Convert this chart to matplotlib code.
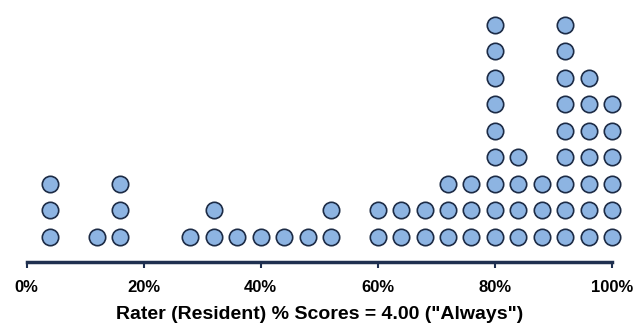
import matplotlib
matplotlib.use("Agg")
import matplotlib.pyplot as plt
from matplotlib.ticker import PercentFormatter

plt.rcParams['font.family'] = ['Liberation Sans', 'DejaVu Sans']

# score (%) and number of residents stacked at that score
scores = [4, 12, 16, 28, 32, 36, 40, 44, 48, 52, 60, 64, 68, 72, 76, 80, 84, 88, 92, 96, 100]
counts = [3, 1, 3, 1, 2, 1, 1, 1, 1, 2, 2, 2, 2, 3, 3, 9, 4, 3, 9, 7, 6]
xticks = [0, 20, 40, 60, 80, 100]

dot_fill = '#8DB4E2'
dot_edge = '#1C2B45'
axis_col = '#1F3050'

fig = plt.figure(figsize=(6.44, 3.26), dpi=100)
ax = fig.add_axes([26.5 / 644, 64 / 326, 585.5 / 644, 262 / 326])

xs, ys = [], []
for s, c in zip(scores, counts):
    for k in range(c):
        xs.append(s)
        ys.append(k + 1)

ax.plot(xs, ys, 'o', ms=11.8, mfc=dot_fill, mec=dot_edge, mew=1.2,
        clip_on=False, zorder=3)

ax.set_xlim(0, 100)
ax.set_ylim(0.057, 9.94)
ax.set_xticks(xticks)
ax.xaxis.set_major_formatter(PercentFormatter(decimals=0))
ax.set_yticks([])
for side in ['top', 'right', 'left']:
    ax.spines[side].set_visible(False)
ax.spines['bottom'].set_color(axis_col)
ax.spines['bottom'].set_linewidth(2.5)
ax.tick_params(axis='x', direction='out', length=4, width=1.5, color=axis_col,
               pad=9, labelsize=12)
for lbl in ax.get_xticklabels():
    lbl.set_fontweight('bold')
ax.set_xlabel('Rater (Resident) % Scores = 4.00 ("Always")', fontsize=14,
              fontweight='bold', labelpad=8)

fig.savefig('out.png', dpi=100)
